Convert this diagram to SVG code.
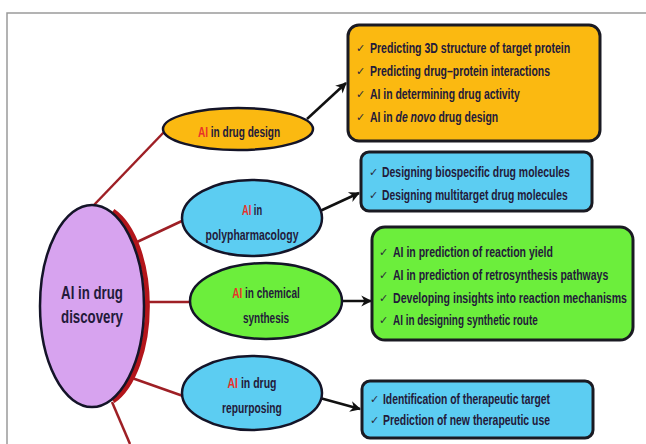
<svg xmlns="http://www.w3.org/2000/svg" width="646" height="444" viewBox="0 0 646 444">
<defs>
<marker id="arr" viewBox="0 0 12 12" refX="10" refY="6" markerWidth="13" markerHeight="13" markerUnits="userSpaceOnUse" orient="auto">
<path d="M1,1 L11,6 L1,11 L4,6 Z" fill="#111"/>
</marker>
<style>
.frame{stroke:#9a9a9a;stroke-width:1.5;fill:none}
.red{stroke:#9e1f25;stroke-width:2.5;fill:none}
.blk{stroke:#111;stroke-width:2.5;fill:none}
.ell{stroke:#141428;stroke-width:2.5}
.box{stroke:#1a1a22;stroke-width:3}
.t{font-family:"Liberation Sans",Arial,sans-serif;font-weight:bold;fill:#231a3a}
.et{font-size:15px;text-anchor:middle}
.bt{font-size:15px}
.ck{font-family:"DejaVu Sans",sans-serif;font-size:11px;fill:#2a2a3a}
.ai{fill:#e8322a}
</style>
</defs>
<rect width="646" height="444" fill="#ffffff"/>
<path class="frame" d="M7,444 L7,13 L646,13"/>

<g id="connectors">
<line class="red" x1="93" y1="206" x2="165" y2="131"/>
<line class="red" x1="137" y1="242" x2="184" y2="220"/>
<line class="red" x1="146" y1="302" x2="191" y2="302"/>
<line class="red" x1="132" y1="378" x2="183" y2="396"/>
<line class="red" x1="112" y1="402" x2="130" y2="444"/>
<line class="blk" x1="307" y1="119" x2="346" y2="83" marker-end="url(#arr)"/>
<line class="blk" x1="320" y1="211" x2="359" y2="193" marker-end="url(#arr)"/>
<line class="blk" x1="342" y1="301" x2="371" y2="301" marker-end="url(#arr)"/>
<line class="blk" x1="320" y1="398" x2="360" y2="409" marker-end="url(#arr)"/>
</g>

<g id="main">
<path d="M113,211 A52 101 0 0 1 113 401" stroke="#b3151b" stroke-width="5" fill="none"/>
<ellipse class="ell" cx="92" cy="306" rx="52" ry="101" fill="#d7a3ef"/>
<text class="t" transform="translate(92,299) scale(0.72,1)" font-size="19" text-anchor="middle" textLength="86" lengthAdjust="spacingAndGlyphs">AI in drug</text>
<text class="t" transform="translate(92,323) scale(0.72,1)" font-size="19" text-anchor="middle" textLength="86" lengthAdjust="spacingAndGlyphs">discovery</text>
</g>

<g id="drug-design">
<ellipse class="ell" cx="238" cy="129" rx="75" ry="21" fill="#fbb911"/>
<text class="t et" transform="translate(239,137) scale(0.72,1)" textLength="114" lengthAdjust="spacingAndGlyphs"><tspan class="ai">AI</tspan> in drug design</text>
</g>

<g id="polypharmacology">
<ellipse class="ell" cx="252" cy="218" rx="70" ry="38" fill="#5ccdf2"/>
<text class="t et" transform="translate(252,215) scale(0.72,1)" textLength="28" lengthAdjust="spacingAndGlyphs"><tspan class="ai">AI</tspan> in</text>
<text class="t et" transform="translate(252,240) scale(0.72,1)" textLength="129" lengthAdjust="spacingAndGlyphs">polypharmacology</text>
</g>

<g id="chemical-synthesis">
<ellipse class="ell" cx="266" cy="301" rx="76" ry="38" fill="#6cee3c"/>
<text class="t et" transform="translate(266,298) scale(0.72,1)" textLength="94" lengthAdjust="spacingAndGlyphs"><tspan class="ai">AI</tspan> in chemical</text>
<text class="t et" transform="translate(266,323) scale(0.72,1)" textLength="64" lengthAdjust="spacingAndGlyphs">synthesis</text>
</g>

<g id="drug-repurposing">
<ellipse class="ell" cx="252" cy="393" rx="70" ry="37" fill="#5ccdf2"/>
<text class="t et" transform="translate(252,388) scale(0.72,1)" textLength="68" lengthAdjust="spacingAndGlyphs"><tspan class="ai">AI</tspan> in drug</text>
<text class="t et" transform="translate(252,413) scale(0.72,1)" textLength="83" lengthAdjust="spacingAndGlyphs">repurposing</text>
</g>

<g id="design-box">
<rect class="box" x="348" y="25" width="252" height="116" rx="11" fill="#fbb911"/>
<text class="ck" x="356" y="52">✓</text><text class="t bt" transform="translate(370,53) scale(0.72,1)" textLength="278" lengthAdjust="spacingAndGlyphs">Predicting 3D structure of target protein</text>
<text class="ck" x="356" y="75">✓</text><text class="t bt" transform="translate(370,76) scale(0.72,1)" textLength="250" lengthAdjust="spacingAndGlyphs">Predicting drug–protein interactions</text>
<text class="ck" x="356" y="98">✓</text><text class="t bt" transform="translate(370,99) scale(0.72,1)" textLength="208" lengthAdjust="spacingAndGlyphs">AI in determining drug activity</text>
<text class="ck" x="356" y="121">✓</text><text class="t bt" transform="translate(370,122) scale(0.72,1)" textLength="178" lengthAdjust="spacingAndGlyphs">AI in <tspan font-style="italic">de novo</tspan> drug design</text>
</g>

<g id="poly-box">
<rect class="box" x="361" y="152" width="231" height="59" rx="8" fill="#5ccdf2"/>
<text class="ck" x="369" y="176">✓</text><text class="t bt" transform="translate(382,177) scale(0.72,1)" textLength="261" lengthAdjust="spacingAndGlyphs">Designing biospecific drug molecules</text>
<text class="ck" x="369" y="199">✓</text><text class="t bt" transform="translate(382,200) scale(0.72,1)" textLength="258" lengthAdjust="spacingAndGlyphs">Designing multitarget drug molecules</text>
</g>

<g id="synthesis-box">
<rect class="box" x="372" y="227" width="261" height="113" rx="13" fill="#6cee3c"/>
<text class="ck" x="379" y="256">✓</text><text class="t bt" transform="translate(393,257) scale(0.72,1)" textLength="222" lengthAdjust="spacingAndGlyphs">AI in prediction of reaction yield</text>
<text class="ck" x="379" y="279">✓</text><text class="t bt" transform="translate(393,280) scale(0.72,1)" textLength="299" lengthAdjust="spacingAndGlyphs">AI in prediction of retrosynthesis pathways</text>
<text class="ck" x="379" y="302">✓</text><text class="t bt" transform="translate(393,303) scale(0.72,1)" textLength="325" lengthAdjust="spacingAndGlyphs">Developing insights into reaction mechanisms</text>
<text class="ck" x="379" y="324">✓</text><text class="t bt" transform="translate(393,325) scale(0.72,1)" textLength="201" lengthAdjust="spacingAndGlyphs">AI in designing synthetic route</text>
</g>

<g id="repurposing-box">
<rect class="box" x="362" y="381" width="231" height="57" rx="8" fill="#5ccdf2"/>
<text class="ck" x="370" y="403">✓</text><text class="t bt" transform="translate(383,404) scale(0.72,1)" textLength="232" lengthAdjust="spacingAndGlyphs">Identification of therapeutic target</text>
<text class="ck" x="370" y="424">✓</text><text class="t bt" transform="translate(383,425) scale(0.72,1)" textLength="232" lengthAdjust="spacingAndGlyphs">Prediction of new therapeutic use</text>
</g>
</svg>
